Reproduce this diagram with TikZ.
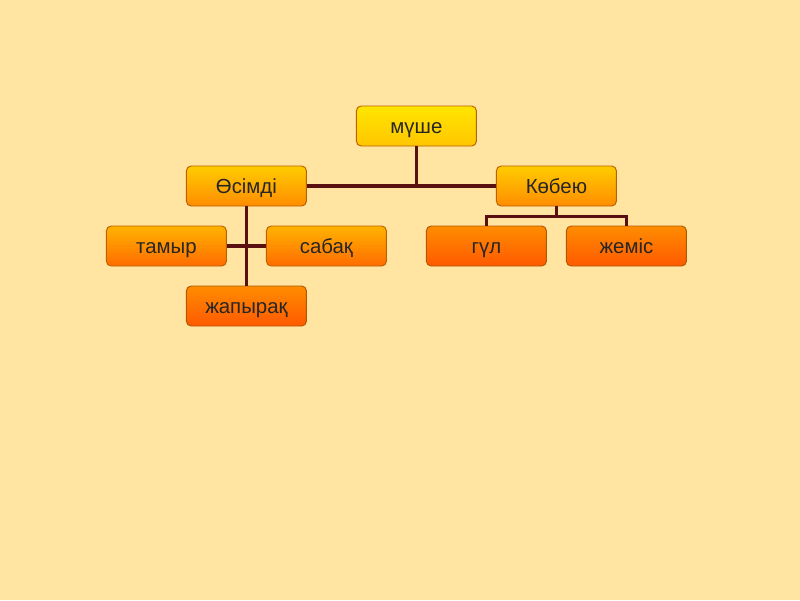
\documentclass[tikz,border=0pt]{standalone}
\usepackage{fontspec}
\setmainfont{Liberation Sans}
\usetikzlibrary{calc}
\definecolor{bgcol}{HTML}{FFE4A2}
\definecolor{linkcol}{HTML}{5A1010}
\begin{document}
\begin{tikzpicture}[
    box/.style={rectangle, rounded corners=0.12cm, draw, line width=0.7pt,
        minimum height=1cm, minimum width=3cm, inner sep=0pt,
        text height=1.95ex, text depth=0.05ex,
        font=\fontsize{14.5}{17}\selectfont, text=black!85},
    top/.style={box, draw=orange!75!black, top color=yellow!80!orange, bottom color=yellow!55!orange},
    mid/.style={box, draw=orange!75!black, top color=yellow!60!orange, bottom color=orange!90!yellow},
    low/.style={box, draw=orange!75!black, top color=yellow!40!orange, bottom color=orange!85!red},
    leaf/.style={box, draw=orange!70!black, top color=orange!90!yellow, bottom color=orange!70!red},
    link/.style={draw=linkcol, line width=2.3pt}
]
\fill[bgcol] (0,0) rectangle (20,-15);
\useasboundingbox (0,0) rectangle (20,-15);

\node[top] (muse) at (10.41,-3.15) {мүше};
\node[mid] (osimdi) at (6.16,-4.65) {Өсімді};
\node[mid] (kobeu) at (13.91,-4.65) {Көбею};
\node[low] (tamyr) at (4.16,-6.15) {тамыр};
\node[low] (sabaq) at (8.16,-6.15) {сабақ};
\node[leaf] (zhapyraq) at (6.16,-7.65) {жапырақ};
\node[leaf] (gul) at (12.16,-6.15) {гүл};
\node[leaf] (zhemis) at (15.66,-6.15) {жеміс};

% connectors
\draw[link] (osimdi.east) -- (kobeu.west);
\draw[link] (muse.south) -- (muse.south |- osimdi.east);
\draw[link] (osimdi.south) -- (zhapyraq.north);
\draw[link] (tamyr.east) -- (sabaq.west);
\draw[link] (kobeu.south) -- ++(0,-0.25) coordinate (fork);
\draw[link] (gul.north) |- (fork) -| (zhemis.north);
\end{tikzpicture}
\end{document}
